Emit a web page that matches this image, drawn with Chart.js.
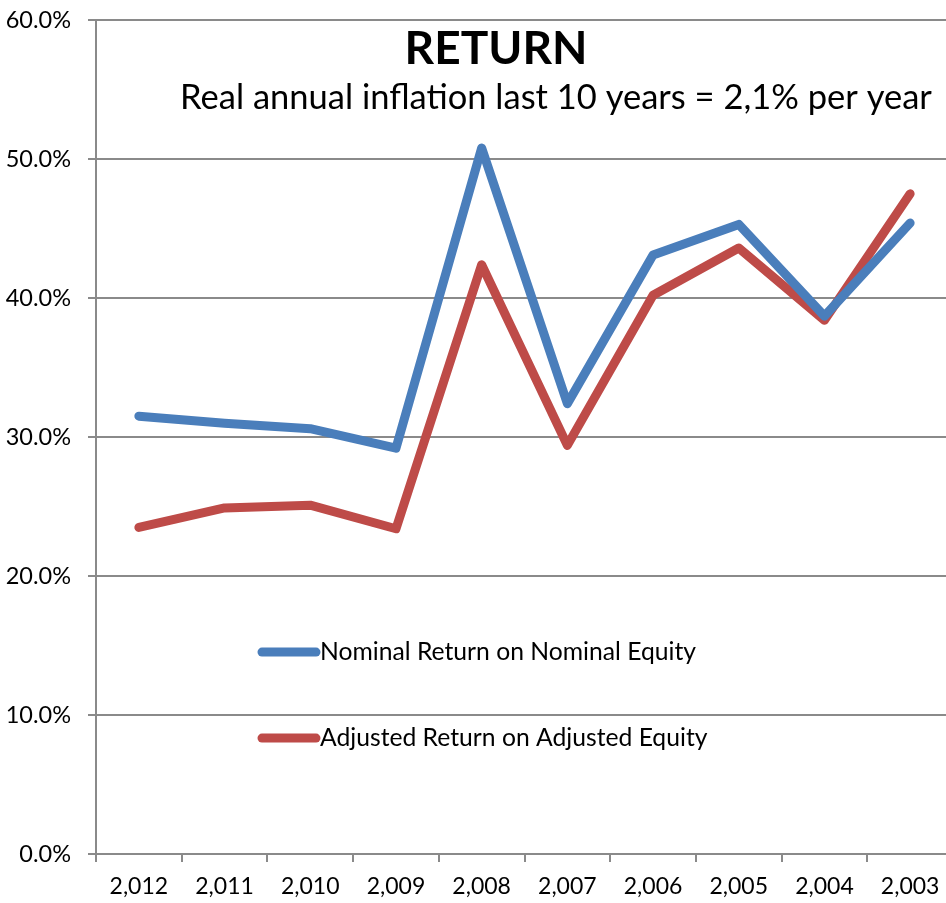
<!DOCTYPE html>
<html><head><meta charset="utf-8">
<script src="https://cdn.jsdelivr.net/npm/chart.js@4/dist/chart.umd.min.js"></script>
<style>html,body{margin:0;padding:0;overflow:hidden;background:#fff}#wrap{width:960px;height:914px;position:absolute;top:-11px;left:0}</style>
</head><body><div id="wrap"><canvas id="c"></canvas></div>
<script>
const years = ['2,012','2,011','2,010','2,009','2,008','2,007','2,006','2,005','2,004','2,003'];
const nominal = [31.5, 31.0, 30.6, 29.2, 50.8, 32.4, 43.1, 45.3, 38.7, 45.4];
const adjusted = [23.5, 24.9, 25.1, 23.4, 42.4, 29.4, 40.2, 43.6, 38.4, 47.5];
const seriesNames = ['Nominal Return on Nominal Equity', 'Adjusted Return on Adjusted Equity'];
const titleText = 'RETURN';
const subtitleText = 'Real annual inflation last 10 years = 2,1% per year';

const FONT = 'Lato, "Open Sans", sans-serif';
const GRID = '#8a8a8a';
const BLUE = '#4a7ebb';
const RED = '#be4b48';

const overlay = {
  id: 'overlay',
  afterDatasetsDraw(chart) {
    const ctx = chart.ctx;
    const a = chart.chartArea;
    ctx.save();
    ctx.fillStyle = '#000';
    ctx.textAlign = 'center';
    ctx.textBaseline = 'middle';
    ctx.font = 'bold 46px ' + FONT;
    ctx.fillText(titleText, a.left + 400, a.top + 29);
    ctx.font = '34.5px ' + FONT;
    ctx.fillText(subtitleText, a.left + 460, a.top + 78);
    // legend
    const items = [[seriesNames[0], BLUE, 632], [seriesNames[1], RED, 718]];
    ctx.font = '24.7px ' + FONT;
    ctx.textAlign = 'left';
    items.forEach(([txt, col, dy]) => {
      const y = a.top + dy;
      ctx.strokeStyle = col;
      ctx.lineWidth = 9;
      ctx.lineCap = 'round';
      ctx.beginPath();
      ctx.moveTo(a.left + 166, y);
      ctx.lineTo(a.left + 220, y);
      ctx.stroke();
      ctx.fillStyle = '#000';
      ctx.fillText(txt, a.left + 224, y);
    });
    ctx.restore();
  }
};

new Chart(document.getElementById('c'), {
  type: 'line',
  data: {
    labels: years,
    datasets: [
      {label: seriesNames[0], data: nominal, borderColor: BLUE, backgroundColor: BLUE},
      {label: seriesNames[1], data: adjusted, borderColor: RED, backgroundColor: RED}
    ]
  },
  options: {
    responsive: true,
    maintainAspectRatio: false,
    devicePixelRatio: 1,
    animation: false,
    layout: {padding: {top: 8, right: 7, left: 0, bottom: 0}},
    elements: {
      line: {borderWidth: 9, tension: 0, borderCapStyle: 'round', borderJoinStyle: 'round'},
      point: {radius: 0, hoverRadius: 0}
    },
    datasets: {line: {clip: false}},
    plugins: {legend: {display: false}, title: {display: false}, tooltip: {enabled: false}},
    scales: {
      y: {
        min: 0, max: 60,
        ticks: {stepSize: 10, color: '#000', padding: 17, font: {family: FONT, size: 23.5},
          callback: v => v.toFixed(1) + '%'},
        grid: {color: GRID, lineWidth: 2, tickLength: 8},
        border: {color: GRID, width: 2},
        afterFit(s) { s.width = 96; }
      },
      x: {
        offset: true,
        ticks: {color: '#000', padding: 11, font: {family: FONT, size: 23}, maxRotation: 0, autoSkip: false},
        grid: {color: GRID, lineWidth: 2, drawOnChartArea: false, drawTicks: true, tickLength: 8, offset: true},
        border: {color: GRID, width: 2},
        afterFit(s) { s.height = 49; }
      }
    }
  },
  plugins: [overlay]
});
</script>
</body></html>
